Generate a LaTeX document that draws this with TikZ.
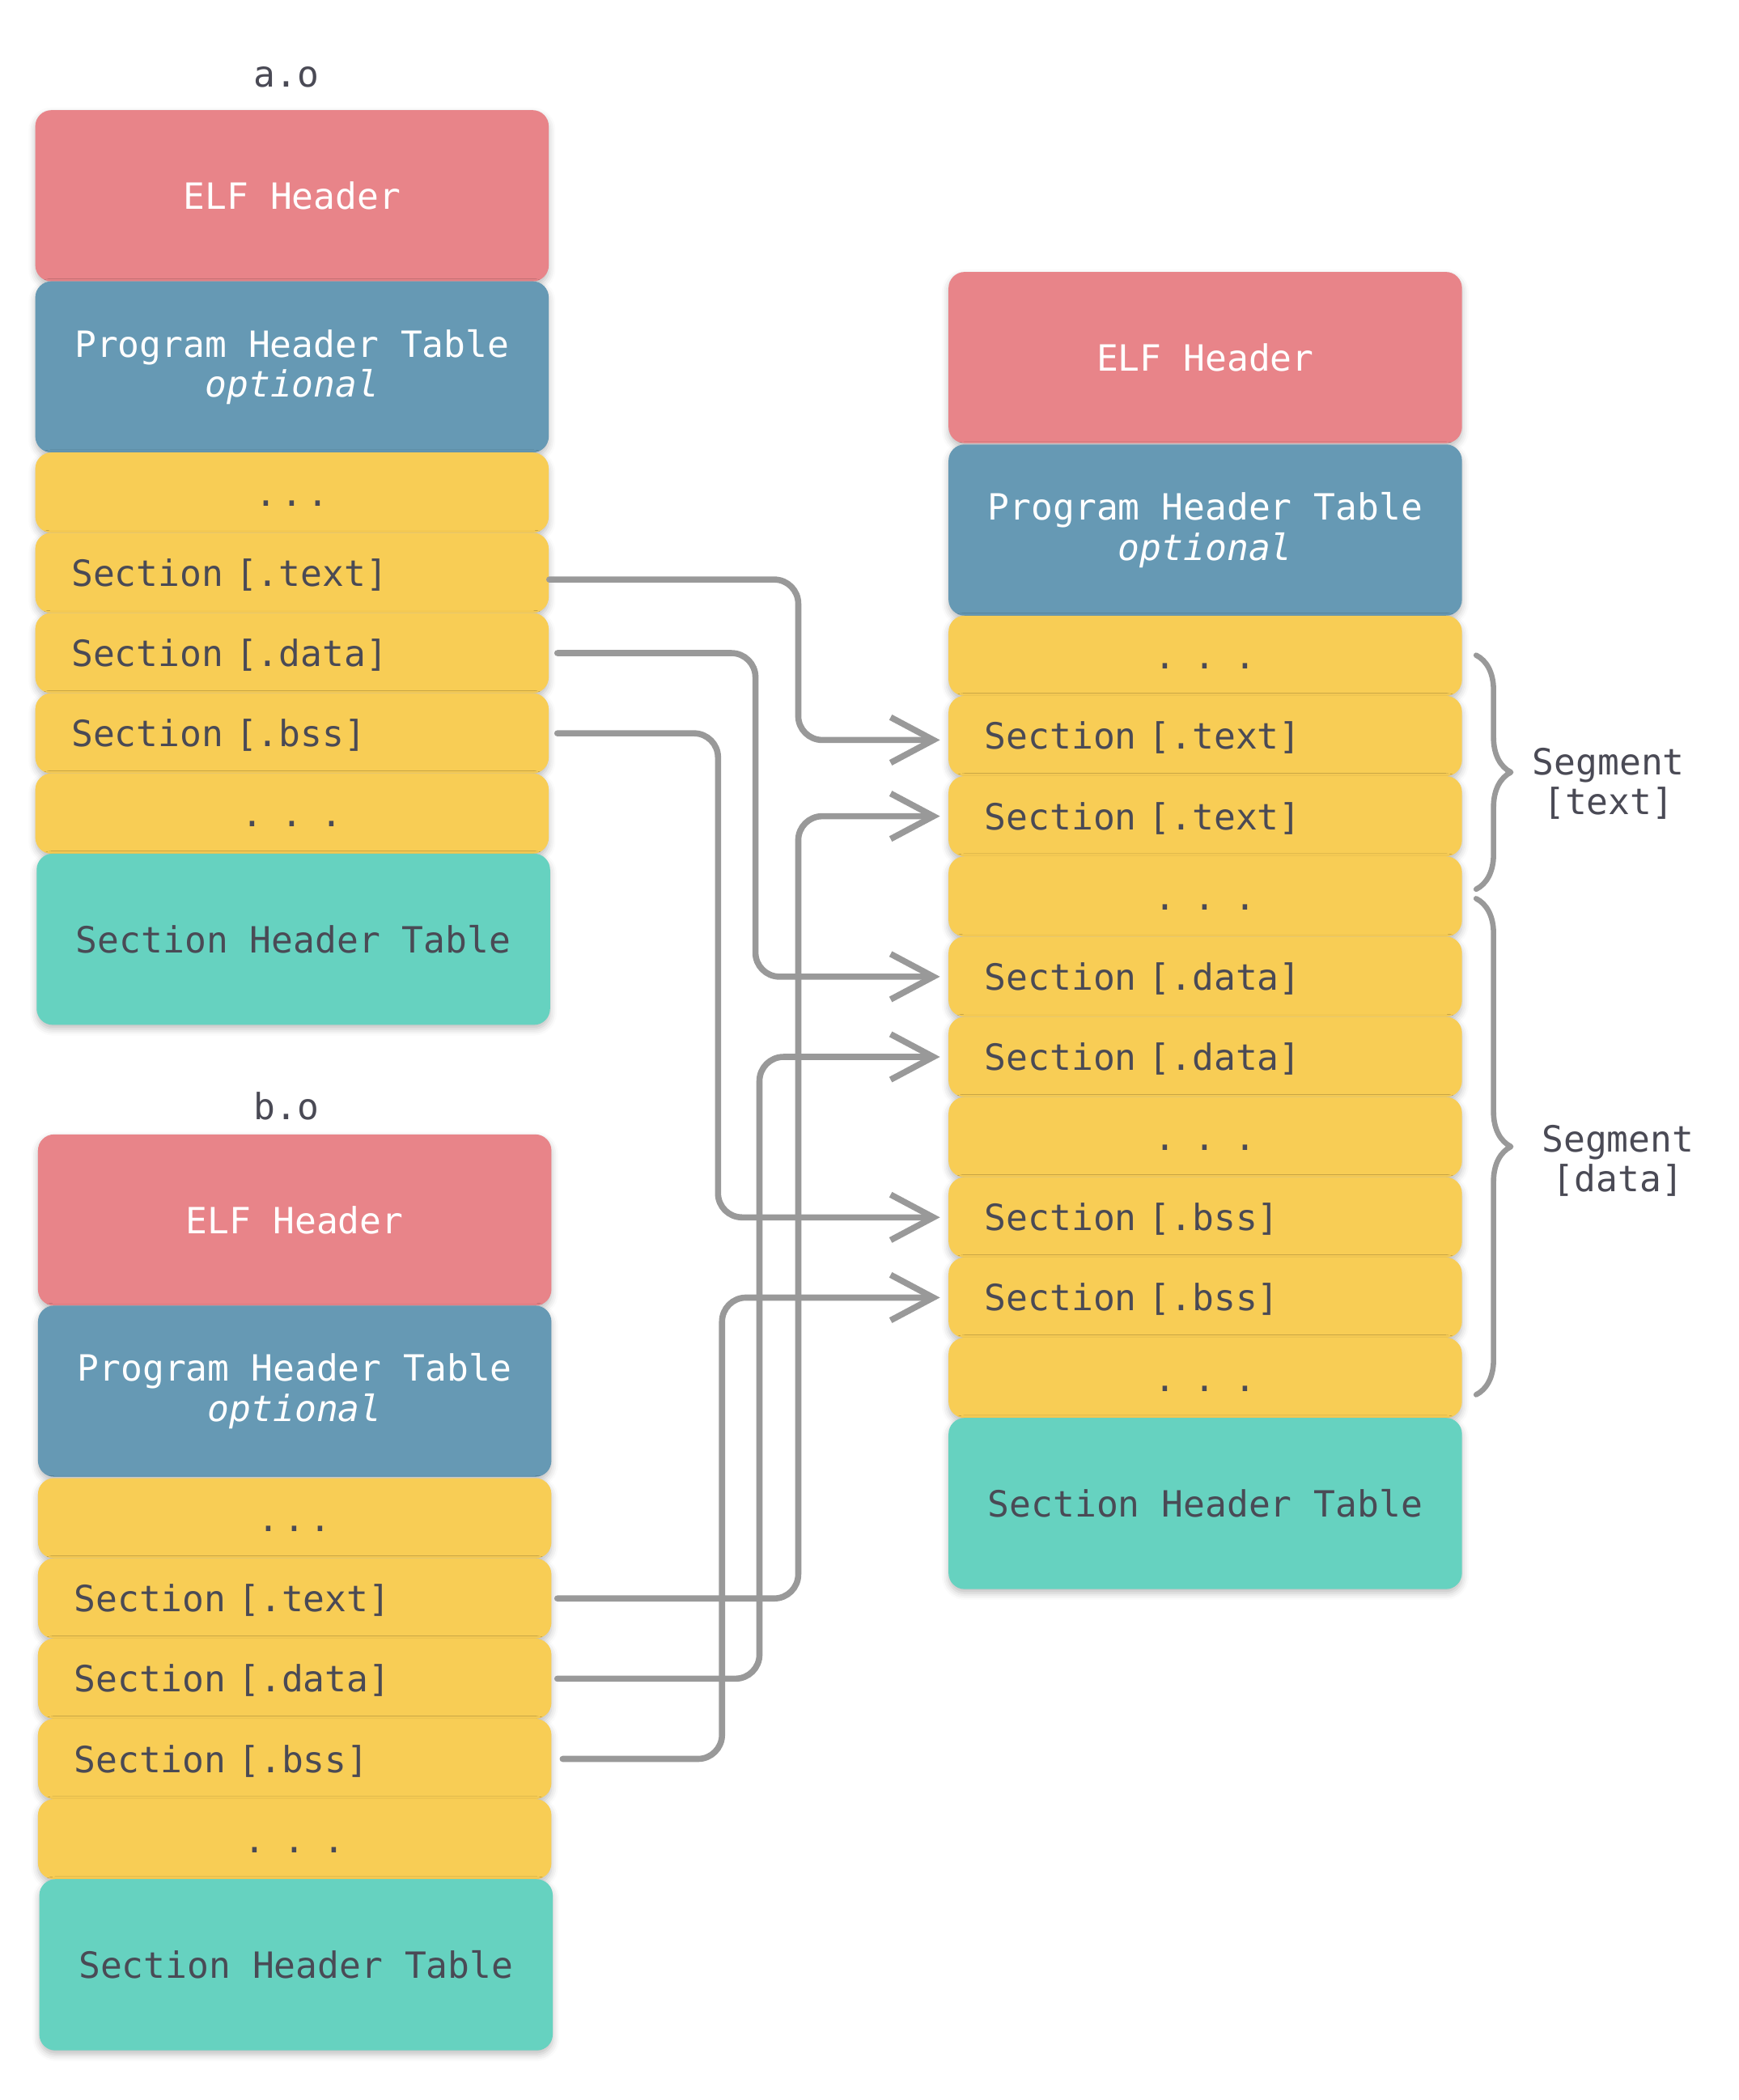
\documentclass[tikz,border=0pt]{standalone}
\usepackage{fontspec}
\newfontfamily\elfmono{DejaVu Sans Mono}
\newcommand\elffont{\elfmono\fontsize{13.5pt}{15pt}\selectfont}
\usetikzlibrary{arrows.meta,decorations.pathreplacing,shadows.blur}
\definecolor{elfred}{HTML}{E88489}
\definecolor{phtblue}{HTML}{6699B4}
\definecolor{secyellow}{HTML}{F8CD55}
\definecolor{shtteal}{HTML}{66D2C0}
\definecolor{ink}{HTML}{4A4A55}
\definecolor{wire}{HTML}{999999}
\tikzset{
	blk/.style={anchor=north west, rounded corners=6pt, inner sep=0pt, minimum width=192pt,
		blur shadow={shadow xshift=0pt, shadow yshift=-1.5pt, shadow blur radius=2.5pt, shadow opacity=25}},
	elfhdr/.style={blk, fill=elfred, text=white, minimum height=64pt, text height=10pt, text depth=0pt},
	phdr/.style={blk, fill=phtblue, text=white, minimum height=64pt, align=center},
	sec/.style={blk, fill=secyellow, text=ink, minimum height=30pt, text height=10pt, text depth=0pt,
		text width=165pt, align=left},
	dots/.style={sec, align=center},
	shdr/.style={blk, fill=shtteal, text=ink, minimum height=64pt, text height=10pt, text depth=0pt},
	link/.style={draw=wire, line width=2.3pt, rounded corners=9pt, shorten >=3pt,
		-{Straight Barb[length=16pt,width=17pt]}},
	brc/.style={draw=wire, line width=2pt, decorate, decoration={brace, amplitude=13pt}}
}
\newcommand\tightdots{.\kern1.5pt.\kern1.5pt.}
\begin{document}
\begin{tikzpicture}[x=0.5pt, y=-0.5pt, font=\elffont, line join=round, line cap=round]
	\useasboundingbox (0,0) rectangle (1300,1570.5);
	
	% a.o
	\node[text=ink, anchor=base] (a-name) at (214,65) {a.o};
	\node[elfhdr] (a-elf) at (26,82) {ELF Header};
	\node[phdr] (a-pht) at (26,210) {Program Header Table\\\textit{optional}};
	\foreach \n/\s/\t [count=\i from 0] in {dots1/dots/{\tightdots}, text/sec/{Section [.text]},
		data/sec/{Section [.data]}, bss/sec/{Section [.bss]}, dots2/dots/{. . .}}
	\node[\s] (a-\n) at (26,{338+60*\i}) {\t};
	\node[shdr] (a-sht) at (27,638) {Section Header Table};
	
	% b.o
	\node[text=ink, anchor=base] (b-name) at (214,837) {b.o};
	\node[elfhdr] (b-elf) at (28,848) {ELF Header};
	\node[phdr] (b-pht) at (28,976) {Program Header Table\\\textit{optional}};
	\foreach \n/\s/\t [count=\i from 0] in {dots1/dots/{\tightdots}, text/sec/{Section [.text]},
		data/sec/{Section [.data]}, bss/sec/{Section [.bss]}, dots2/dots/{. . .}}
	\node[\s] (b-\n) at (28,{1105+60*\i}) {\t};
	\node[shdr] (b-sht) at (29,1405) {Section Header Table};
	
	% linked output
	\node[elfhdr] (r-elf) at (709,203) {ELF Header};
	\node[phdr] (r-pht) at (709,332) {Program Header Table\\\textit{optional}};
	\foreach \n/\s/\t [count=\i from 0] in {dots1/dots/{. . .}, text1/sec/{Section [.text]},
		text2/sec/{Section [.text]}, dots2/dots/{. . .}, data1/sec/{Section [.data]},
		data2/sec/{Section [.data]}, dots3/dots/{. . .}, bss1/sec/{Section [.bss]},
		bss2/sec/{Section [.bss]}, dots4/dots/{. . .}}
	\node[\s] (r-\n) at (709,{460+60*\i}) {\t};
	\node[shdr] (r-sht) at (709,1060) {Section Header Table};
	
	% segments
	\path
	(1104,490) coordinate (st-top) (1104,665) coordinate (st-bot)
	(1104,672) coordinate (sd-top) (1104,1043) coordinate (sd-bot);
	\draw[brc] (st-top) -- (st-bot);
	\draw[brc] (sd-top) -- (sd-bot);
	\node[text=ink, align=center] (seg-text) at (1203,586) {Segment\\{[text]}};
	\node[text=ink, align=center] (seg-data) at (1210,868) {Segment\\{[data]}};
	
	% sections to segments
	\path
	(597,0) coordinate (va-text) (565,0) coordinate (va-data) (537,0) coordinate (va-bss)
	(597,0) coordinate (vb-text) (568,0) coordinate (vb-data) (540,0) coordinate (vb-bss);
	\draw[link] ([yshift=-2.5pt]a-text.east) -| ([yshift=-1.5pt]va-text |- r-text1.west) -- ([yshift=-1.5pt]r-text1.west);
	\draw[link, shorten <=3pt] (a-data.east) -| (va-data |- r-data1.west) -- (r-data1.west);
	\draw[link, shorten <=3pt] (a-bss.east) -| (va-bss |- r-bss1.west) -- (r-bss1.west);
	\draw[link, shorten <=2pt] (b-text.east) -| (vb-text |- r-text2.west) -- (r-text2.west);
	\draw[link, shorten <=2pt] (b-data.east) -| (vb-data |- r-data2.west) -- (r-data2.west);
	\draw[link, shorten <=4pt] (b-bss.east) -| (vb-bss |- r-bss2.west) -- (r-bss2.west);
	
\end{tikzpicture}
\end{document}
